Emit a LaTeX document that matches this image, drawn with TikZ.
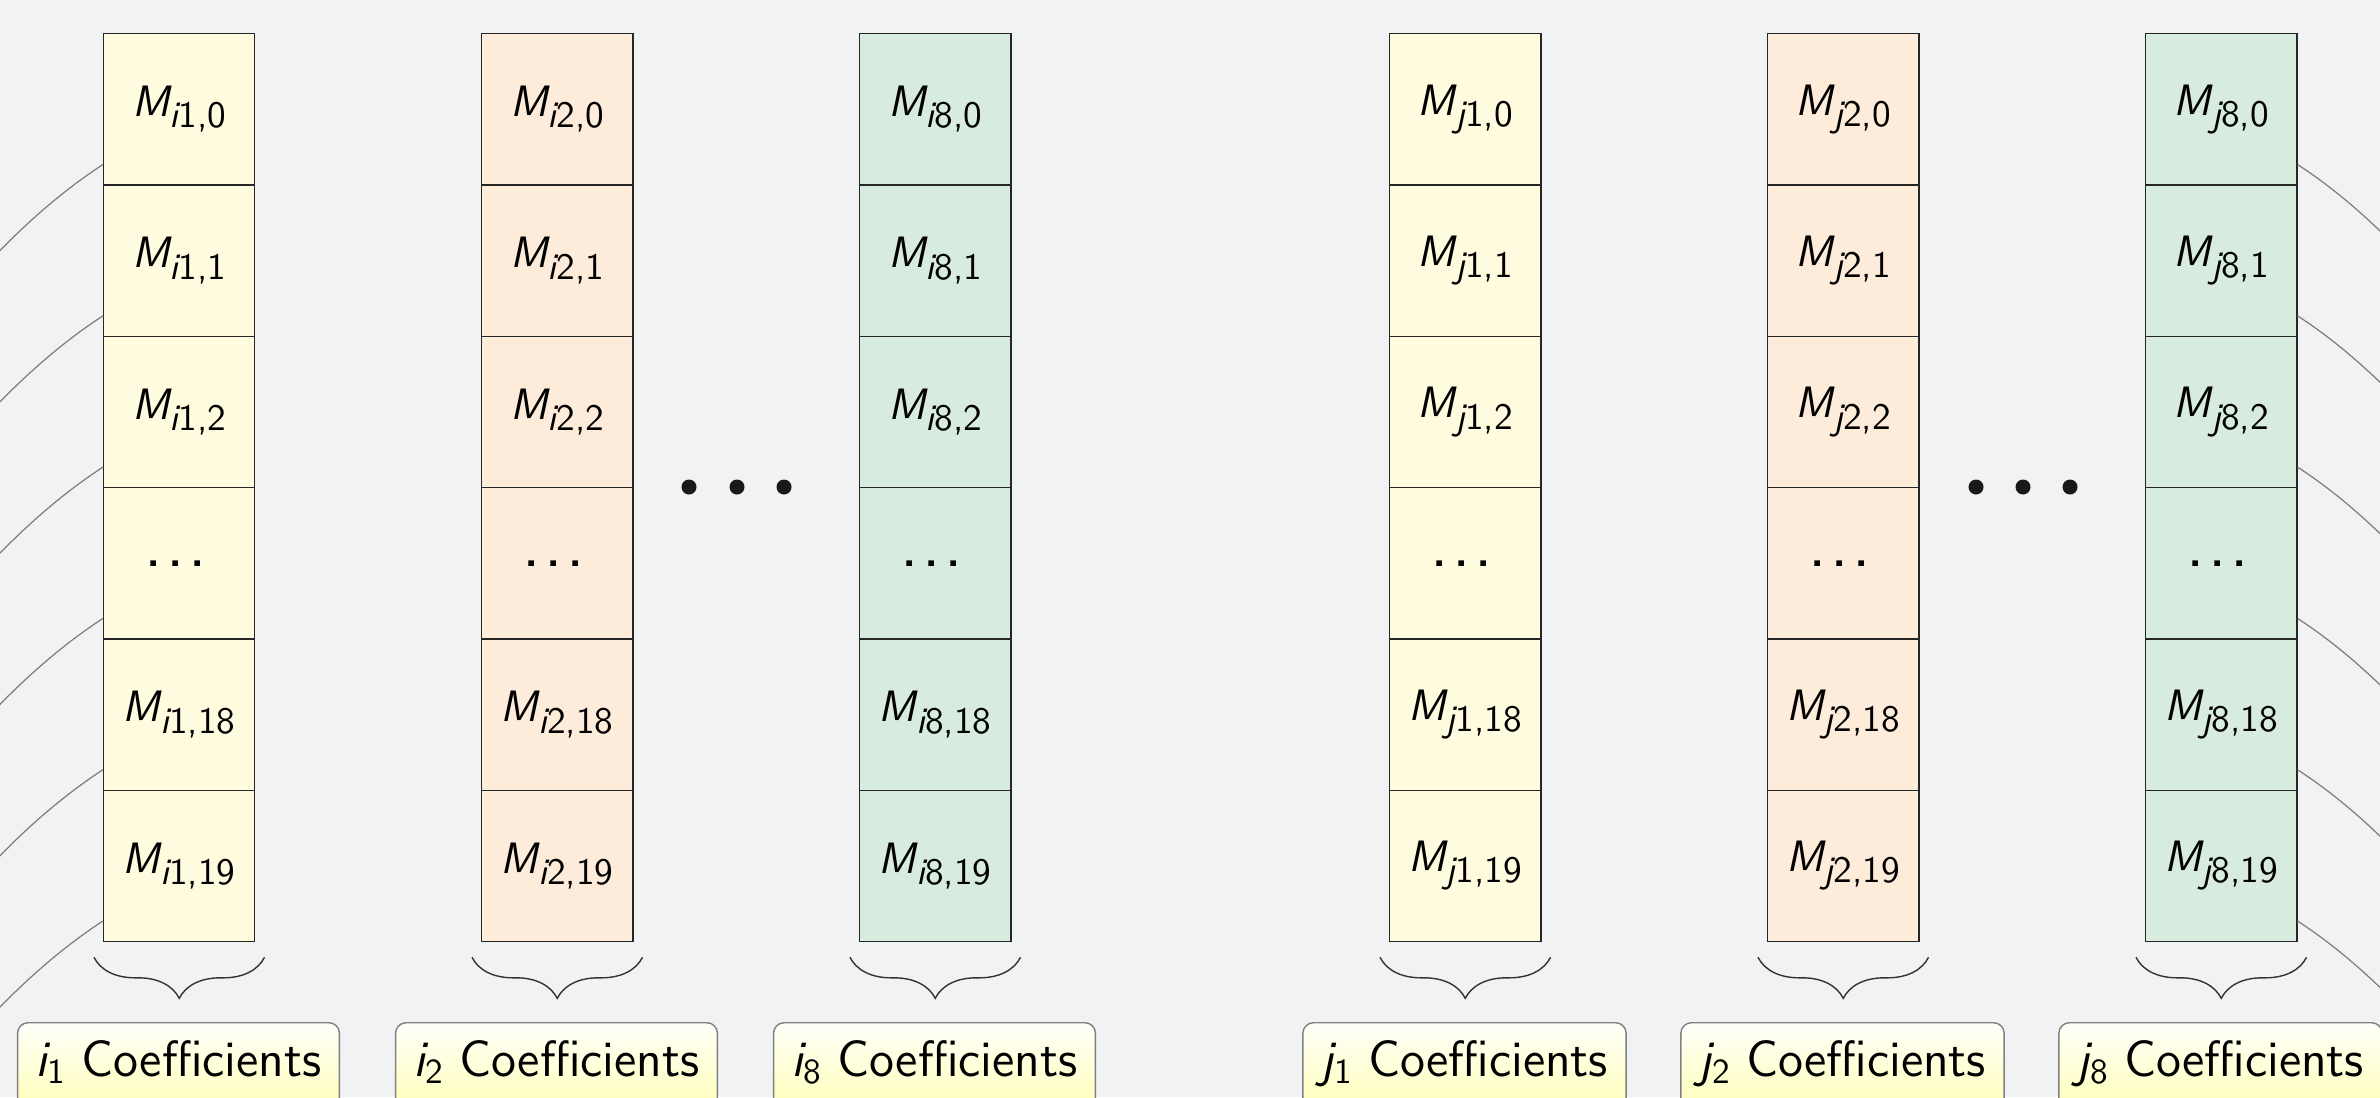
\documentclass[tikz,border=0pt]{standalone}
\usepackage{fontspec}
\usetikzlibrary{calc,decorations.pathreplacing}
\definecolor{bg}{RGB}{241,242,244}
\definecolor{cy}{RGB}{255,251,222}
\definecolor{co}{RGB}{253,236,217}
\definecolor{cg}{RGB}{215,235,222}
\definecolor{lnk}{RGB}{125,125,125}
\definecolor{lbltop}{RGB}{255,255,250}
\definecolor{lblbot}{RGB}{255,255,185}
\newcommand\msub[3]{\raisebox{-#3}{\fontsize{#1}{#1}\selectfont\addfontfeature{FakeBold=0.9}#2}}
\newcommand\mcell[2]{{\itshape M}\msub{10.6pt}{{\itshape #1}#2}{3.2pt}}
\newcommand\celldots{{\fontsize{20}{22}\selectfont.\kern1pt.\kern1pt.\kern2pt}}
\begin{document}
\begin{tikzpicture}[x=0.01cm,y=-0.01cm,
  cell/.style={draw=black!85, line width=0.4pt, minimum width=1.51cm, minimum height=1.513cm,
    inner sep=0pt, anchor=north west, font=\sffamily\fontsize{12.5}{15}\selectfont},
  brc/.style={draw=black!80, line width=0.4pt, decorate, decoration={brace, mirror, amplitude=0.41cm}},
  lbl/.style={draw=black!50, line width=0.4pt, rounded corners=3pt, top color=lbltop, bottom color=lblbot,
    anchor=north, inner xsep=0.18cm, inner ysep=0.18cm, text height=10.3pt, text depth=4pt,
    font=\sffamily\fontsize{14.5}{17}\selectfont},
  lnkline/.style={draw=lnk, line width=0.35pt}
]
\fill[bg] (0,0) rectangle (2380,1097);
\useasboundingbox (0,0) rectangle (2380,1097);
\clip (0,0) rectangle (2380,1097);

\foreach \name/\x/\col/\v/\n in {i1/103/cy/i/1, i2/481/co/i/2, i8/859/cg/i/8, j1/1389/cy/j/1, j2/1767/co/j/2, j8/2145/cg/j/8}{
  \foreach \k/\s in {0/0,1/1,2/2,4/18,5/19}
    \node[cell, fill=\col] (\name-\k) at (\x, {33+151.3*\k}) {\mcell{\v}{\n,\s}};
  \node[cell, fill=\col] (\name-3) at (\x, {33+151.3*3}) {\celldots};
  \draw[brc] ($(\name-5.south west)+(-9,15)$) -- ($(\name-5.south east)+(9,15)$);
  \node[lbl] (\name-lbl) at ({\x+75.5}, 1022) {{\itshape\addfontfeature{FakeBold=1.2}\v}\msub{10pt}{\n}{1.9pt}~Coefficients};
}

% big dots between columns
\foreach \xx in {689,737,784,1976,2023,2070}
  \fill[black!90] (\xx,487) circle[radius=0.075cm];

% connectors leaving the picture
\foreach \k in {0,...,5}{
  \coordinate (ls\k) at (-60, {317+151.3*\k});
  \draw[lnkline] (ls\k) .. controls ($(ls\k)+(48,-57)$) and ($(i1-\k.south west)+(-63,19.7)$) .. ($(i1-\k.south west)+(0,-21.3)$);
  \coordinate (rs\k) at (2459, {317+151.3*\k});
  \draw[lnkline] ($(j8-\k.south east)+(0,-21.3)$) .. controls ($(j8-\k.south east)+(63,19.7)$) and ($(rs\k)+(-48,-57)$) .. (rs\k);
}
\end{tikzpicture}
\end{document}
